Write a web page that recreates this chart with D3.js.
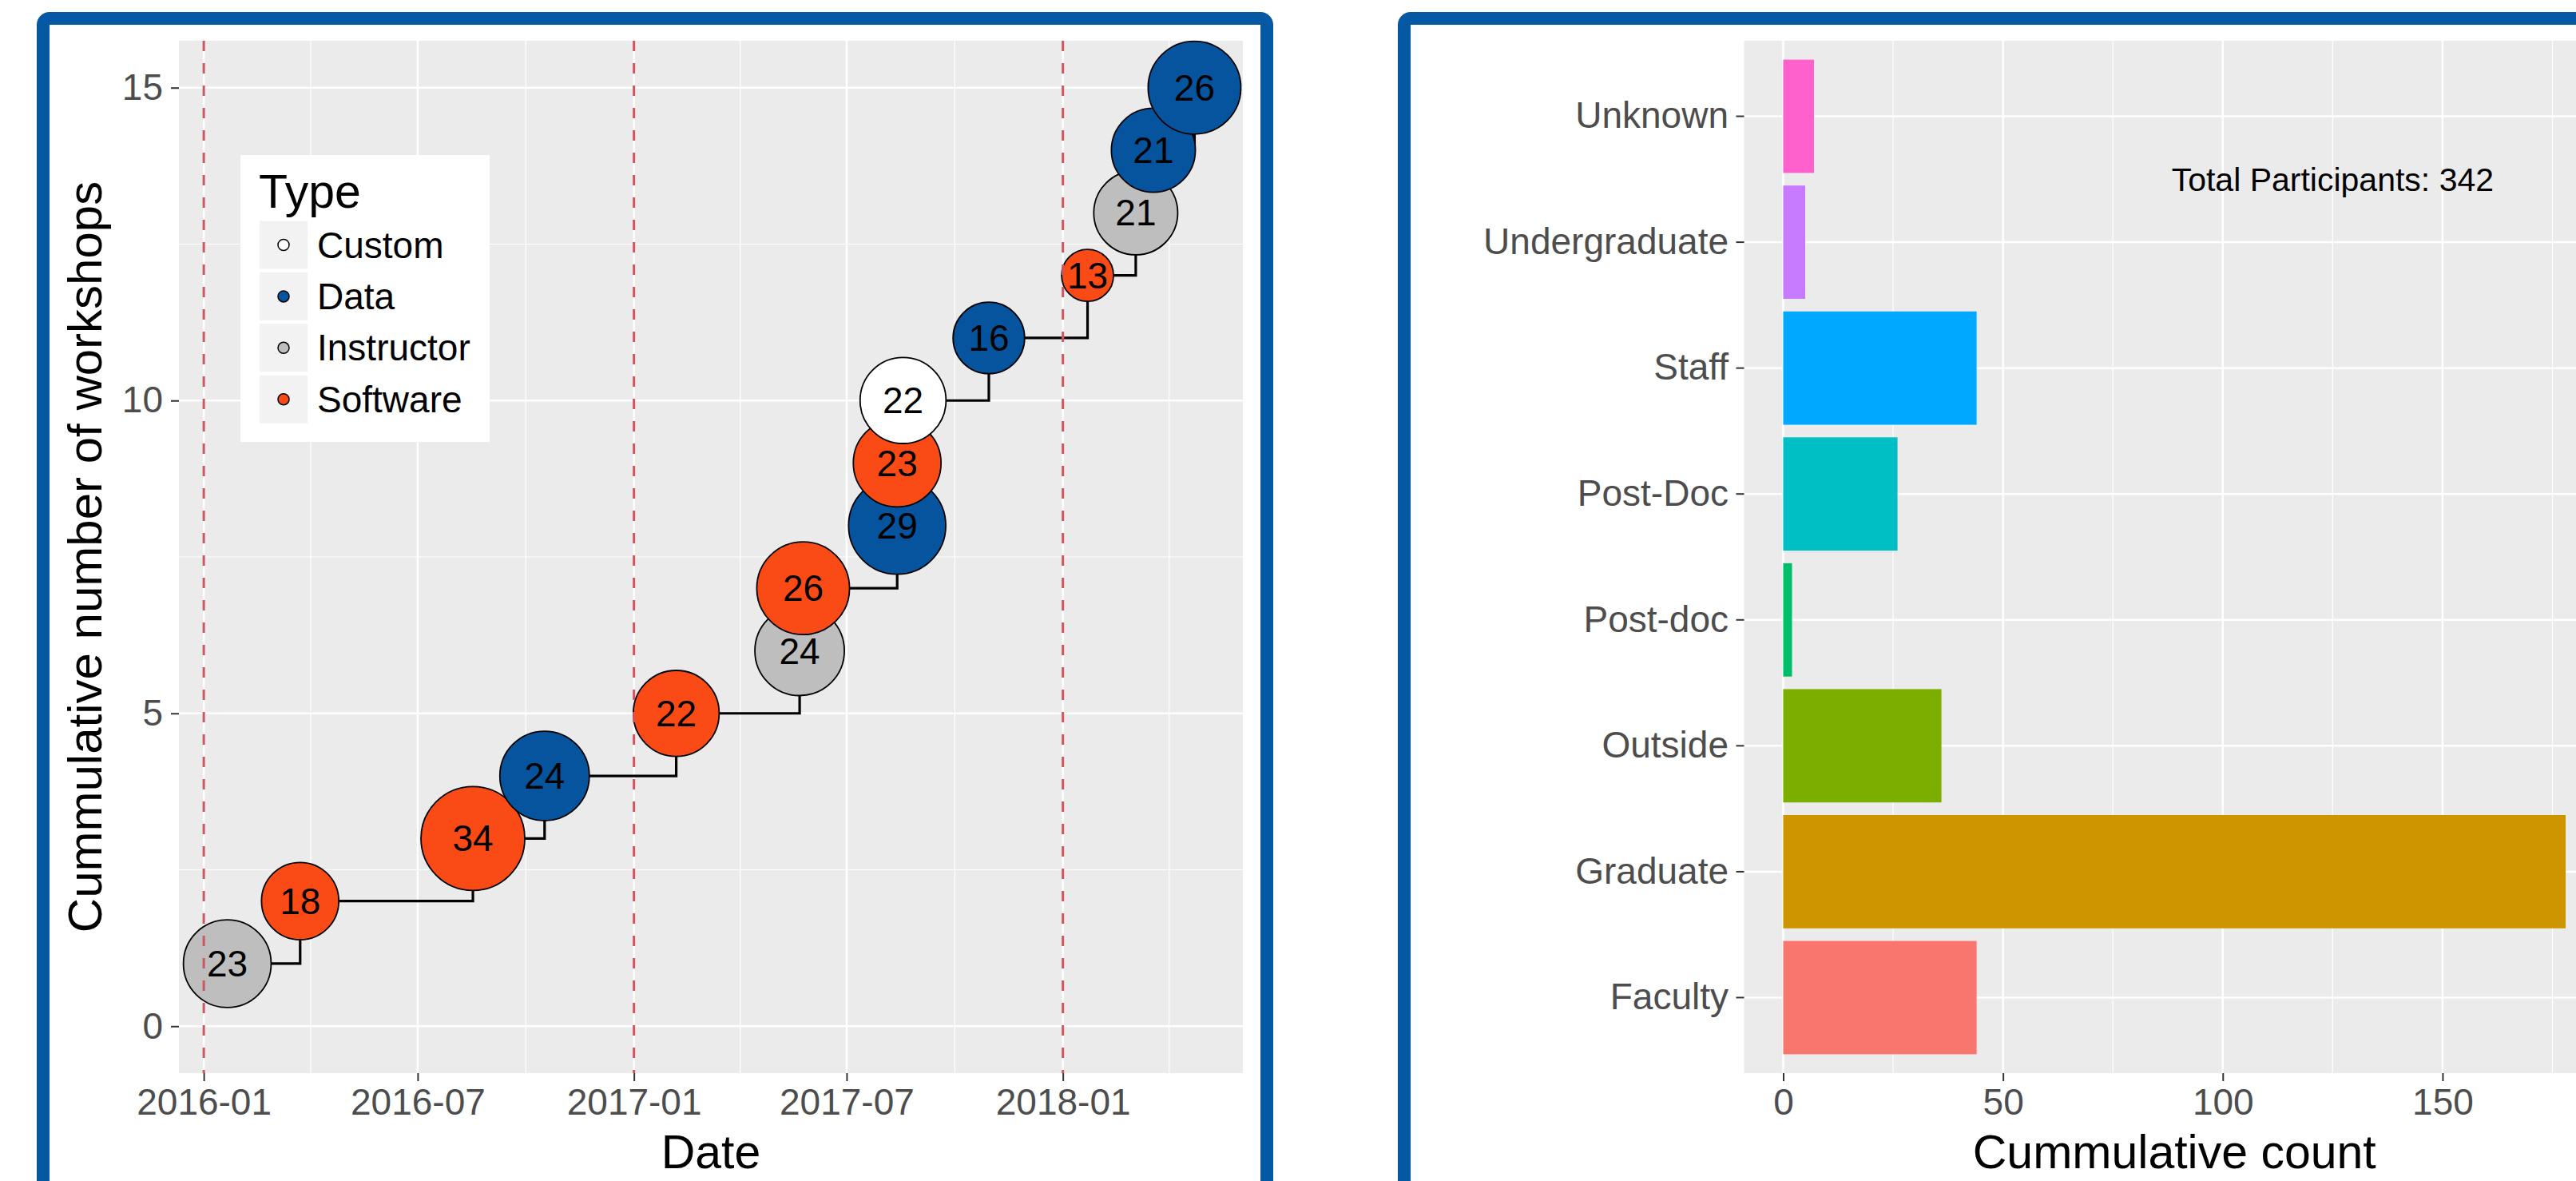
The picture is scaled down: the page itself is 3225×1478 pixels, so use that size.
<!DOCTYPE html>
<html>
<head>
<meta charset="utf-8">
<script src="https://cdn.jsdelivr.net/npm/d3@7"></script>
<style>
  body { margin: 0; background: #fff; }
  svg text { font-family: "Liberation Sans", Arial, sans-serif; }
</style>
</head>
<body>
<svg id="chart" width="3225" height="1478"></svg>
<script>
// workshops, in date order
const workshopDates = ["2016-01-21", "2016-03-23", "2016-08-17", "2016-10-17", "2017-02-06",
                       "2017-05-22", "2017-05-25", "2017-08-13", "2017-08-13", "2017-08-18",
                       "2017-10-30", "2018-01-22", "2018-03-04", "2018-03-19", "2018-04-23"];
const workshopTypes = ["Instructor", "Software", "Software", "Data", "Software",
                       "Instructor", "Software", "Data", "Software", "Custom",
                       "Data", "Software", "Instructor", "Data", "Data"];
const participants = [23, 18, 34, 24, 22, 24, 26, 29, 23, 22, 16, 13, 21, 21, 26];
const cumulativeCount = [1, 2, 3, 4, 5, 6, 7, 8, 9, 10, 11, 12, 13, 14, 15];
const typeNames = ["Custom", "Data", "Instructor", "Software"];
const typeColors = ["#ffffff", "#06539e", "#bebebe", "#fa4a15"];
const yearLines = ["2016-01-01", "2017-01-01", "2018-01-01"];
const workshopTicks = [0, 5, 10, 15];

// participants by position (top to bottom)
const groups = ["Unknown", "Undergraduate", "Staff", "Post-Doc", "Post-doc", "Outside", "Graduate", "Faculty"];
const groupCounts = [7, 5, 44, 26, 2, 36, 178, 44];
const groupColors = ["#ff61cc", "#c77cff", "#00a9ff", "#00bfc4", "#00be67", "#7cae00", "#cd9600", "#f8766d"];
const countTicks = [0, 50, 100, 150];

const svg = d3.select('#chart');
const tickFont = 46, titleFont = 59;

// cards with blue frame
svg.append('rect').attr('x', 54).attr('y', 23).attr('width', 1532).attr('height', 1520)
    .attr('rx', 8).attr('fill', '#fff').attr('stroke', '#0558a4').attr('stroke-width', 16);
svg.append('rect').attr('x', 1758).attr('y', 23).attr('width', 1600).attr('height', 1520)
    .attr('rx', 8).attr('fill', '#fff').attr('stroke', '#0558a4').attr('stroke-width', 16);

const styleAxis = g => {
    g.select('.domain').remove();
    g.selectAll('line').attr('stroke', '#333').attr('stroke-width', 2);
    g.selectAll('text').attr('fill', '#4d4d4d').attr('font-size', tickFont)
        .attr('font-family', '"Liberation Sans", Arial, sans-serif');
};

// ---------- left: cumulative workshops ----------
const p1 = { x0: 224, x1: 1556, y0: 51, y1: 1343 };
const parseDate = d3.timeParse('%Y-%m-%d');
const dates = workshopDates.map(parseDate);
const dExt = d3.extent(dates);
const dPad = (dExt[1] - dExt[0]) * 0.05;

const x = d3.scaleTime()
    .domain([new Date(+dExt[0] - dPad), new Date(+dExt[1] + dPad)])
    .range([p1.x0, p1.x1]);
const y = d3.scaleLinear()
    .domain([-0.75, 15.75]) // [0,15] plus ggplot's 5%
    .range([p1.y1, p1.y0]);

const sizeNorm = d3.scaleLinear().domain(d3.extent(participants)).range([0, 1]);
const sizeRange = d3.scaleLinear().domain([0, 1]).range([32.5, 65]);
const radius = v => sizeRange(Math.sqrt(sizeNorm(v)));
const fill = d3.scaleOrdinal().domain(typeNames).range(typeColors);

const g1 = svg.append('g');
g1.append('rect').attr('x', p1.x0).attr('y', p1.y0)
    .attr('width', p1.x1 - p1.x0).attr('height', p1.y1 - p1.y0).attr('fill', '#ebebeb');

// grid
const sixMonths = d3.timeMonth.every(6);
const majorX = sixMonths.range(x.domain()[0], x.domain()[1]);
const allX = sixMonths.range(d3.timeMonth.offset(x.domain()[0], -6), d3.timeMonth.offset(x.domain()[1], 6));
const minorX = d3.pairs(allX).map(([a, b]) => new Date((+a + +b) / 2))
    .filter(d => d >= x.domain()[0] && d <= x.domain()[1]);
const minorY = [2.5, 7.5, 12.5];

g1.selectAll('.minx').data(minorX).join('line')
    .attr('x1', d => x(d)).attr('x2', d => x(d)).attr('y1', p1.y0).attr('y2', p1.y1)
    .attr('stroke', '#fff').attr('stroke-width', 1.2);
g1.selectAll('.miny').data(minorY).join('line')
    .attr('x1', p1.x0).attr('x2', p1.x1).attr('y1', d => y(d)).attr('y2', d => y(d))
    .attr('stroke', '#fff').attr('stroke-width', 1.2);
g1.selectAll('.majx').data(majorX).join('line')
    .attr('x1', d => x(d)).attr('x2', d => x(d)).attr('y1', p1.y0).attr('y2', p1.y1)
    .attr('stroke', '#fff').attr('stroke-width', 2.5);
g1.selectAll('.majy').data(workshopTicks).join('line')
    .attr('x1', p1.x0).attr('x2', p1.x1).attr('y1', d => y(d)).attr('y2', d => y(d))
    .attr('stroke', '#fff').attr('stroke-width', 2.5);

const points = dates.map((d, i) => ({
    date: d, n: cumulativeCount[i], type: workshopTypes[i], size: participants[i]
}));

const step = d3.line().x(d => x(d.date)).y(d => y(d.n)).curve(d3.curveStepAfter);
g1.append('path').attr('d', step(points))
    .attr('fill', 'none').attr('stroke', '#000').attr('stroke-width', 3.2);

g1.selectAll('circle.pt').data(points).join('circle')
    .attr('class', 'pt')
    .attr('cx', d => x(d.date)).attr('cy', d => y(d.n)).attr('r', d => radius(d.size))
    .attr('fill', d => fill(d.type)).attr('stroke', '#000').attr('stroke-width', 1.8);

g1.selectAll('.vline').data(yearLines.map(parseDate)).join('line')
    .attr('x1', d => x(d)).attr('x2', d => x(d)).attr('y1', p1.y0).attr('y2', p1.y1)
    .attr('stroke', '#d0555c').attr('stroke-width', 3).attr('stroke-dasharray', '13,15');

g1.selectAll('text.lab').data(points).join('text')
    .attr('class', 'lab')
    .attr('x', d => x(d.date)).attr('y', d => y(d.n)).attr('dy', '0.35em')
    .attr('text-anchor', 'middle').attr('font-size', tickFont).attr('fill', '#000')
    .text(d => d.size);

// axes
g1.append('g').attr('transform', `translate(0,${p1.y1})`)
    .call(d3.axisBottom(x).tickValues(majorX).tickFormat(d3.timeFormat('%Y-%m')).tickSize(10).tickPadding(9))
    .call(styleAxis);
g1.append('g').attr('transform', `translate(${p1.x0},0)`)
    .call(d3.axisLeft(y).tickValues(workshopTicks).tickSize(10).tickPadding(10))
    .call(styleAxis);

g1.append('text').attr('x', (p1.x0 + p1.x1) / 2).attr('y', 1462)
    .attr('text-anchor', 'middle').attr('font-size', titleFont).text('Date');
g1.append('text').attr('transform', `translate(127,${(p1.y0 + p1.y1) / 2}) rotate(-90)`)
    .attr('text-anchor', 'middle').attr('font-size', titleFont + 1).text('Cummulative number of workshops');

// legend
const lg = g1.append('g');
lg.append('rect').attr('x', 301).attr('y', 194).attr('width', 312).attr('height', 359).attr('fill', '#fff');
lg.append('text').attr('x', 324).attr('y', 260).attr('font-size', titleFont).text('Type');
const rows = lg.selectAll('g.row').data(typeNames).join('g')
    .attr('class', 'row')
    .attr('transform', (d, i) => `translate(325,${306.5 + i * 64.4})`);
rows.append('rect').attr('x', 0).attr('y', -30).attr('width', 60).attr('height', 60).attr('fill', '#f2f2f2');
rows.append('circle').attr('cx', 30).attr('cy', 0).attr('r', 7)
    .attr('fill', d => fill(d)).attr('stroke', '#000').attr('stroke-width', 1.5);
rows.append('text').attr('x', 72).attr('y', 0).attr('dy', '0.35em')
    .attr('font-size', tickFont).attr('fill', '#000').text(d => d);

// ---------- right: participants ----------
const p2 = { x0: 2183.5, x1: 3261, y0: 51, y1: 1343 };
const cMax = d3.max(groupCounts);
const xc = d3.scaleLinear().domain([-cMax * 0.05, cMax * 1.05]).range([p2.x0, p2.x1]);
const yb = d3.scaleBand().domain(groups).range([p2.y0, p2.y1]).paddingInner(0.1).paddingOuter(0.15);
const mid = g => yb(g) + yb.bandwidth() / 2;

const g2 = svg.append('g');
g2.append('rect').attr('x', p2.x0).attr('y', p2.y0)
    .attr('width', p2.x1 - p2.x0).attr('height', p2.y1 - p2.y0).attr('fill', '#ebebeb');

const minorC = [25, 75, 125, 175];
g2.selectAll('.minx').data(minorC).join('line')
    .attr('x1', d => xc(d)).attr('x2', d => xc(d)).attr('y1', p2.y0).attr('y2', p2.y1)
    .attr('stroke', '#fff').attr('stroke-width', 1.2);
g2.selectAll('.majx').data(countTicks).join('line')
    .attr('x1', d => xc(d)).attr('x2', d => xc(d)).attr('y1', p2.y0).attr('y2', p2.y1)
    .attr('stroke', '#fff').attr('stroke-width', 2.5);
g2.selectAll('.majy').data(groups).join('line')
    .attr('x1', p2.x0).attr('x2', p2.x1).attr('y1', mid).attr('y2', mid)
    .attr('stroke', '#fff').attr('stroke-width', 2.5);

g2.selectAll('rect.bar').data(groups).join('rect')
    .attr('class', 'bar')
    .attr('x', xc(0)).attr('y', d => yb(d))
    .attr('width', (d, i) => xc(groupCounts[i]) - xc(0)).attr('height', yb.bandwidth())
    .attr('fill', (d, i) => groupColors[i]);

g2.append('text')
    .attr('x', xc(125)).attr('y', (mid('Unknown') + mid('Undergraduate')) / 2).attr('dy', '0.35em')
    .attr('text-anchor', 'middle').attr('font-size', 41).attr('fill', '#000')
    .text('Total Participants: ' + d3.sum(groupCounts));

g2.append('g').attr('transform', `translate(0,${p2.y1})`)
    .call(d3.axisBottom(xc).tickValues(countTicks).tickSize(10).tickPadding(9))
    .call(styleAxis);
g2.append('g').attr('transform', `translate(${p2.x0},0)`)
    .call(d3.axisLeft(yb).tickSize(10).tickPadding(9.5))
    .call(styleAxis);

g2.append('text').attr('x', (p2.x0 + p2.x1) / 2).attr('y', 1462)
    .attr('text-anchor', 'middle').attr('font-size', titleFont).text('Cummulative count');
</script>
</body>
</html>
